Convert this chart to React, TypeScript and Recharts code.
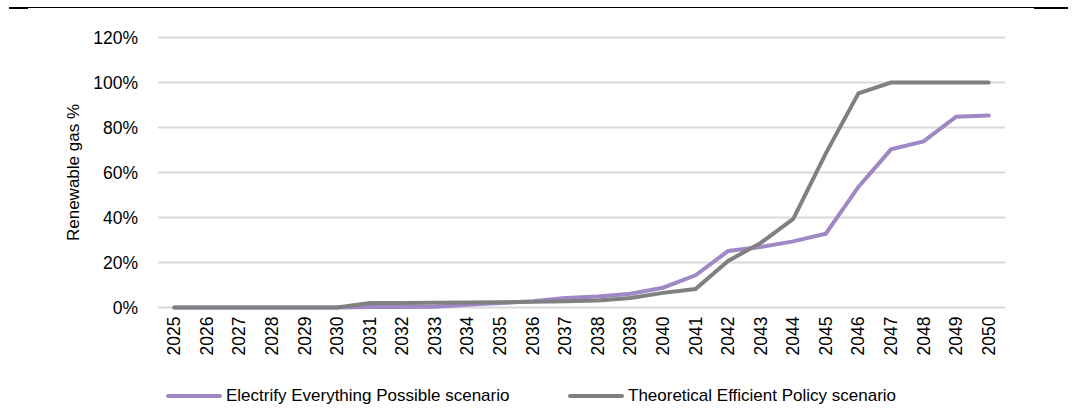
import React from 'react';
import { LineChart, Line, XAxis, YAxis, CartesianGrid } from 'recharts';

const years = ['2025','2026','2027','2028','2029','2030','2031','2032','2033','2034','2035','2036','2037','2038','2039','2040','2041','2042','2043','2044','2045','2046','2047','2048','2049','2050'];
const electrify = [0,0,0,0,0,0,0.2,0.2,0.3,1.2,2.0,2.8,4.2,4.9,6.1,8.8,14.3,25.1,26.9,29.4,32.8,53.6,70.3,73.8,84.8,85.3];
const efficient = [0,0,0,0,0,0,2.0,2.0,2.1,2.2,2.3,2.5,2.8,3.1,4.2,6.5,8.2,20.7,28.7,39.4,68.5,95.2,100,100,100,100];
const yTicks = [0,20,40,60,80,100,120];
const seriesNames = ['Electrify Everything Possible scenario','Theoretical Efficient Policy scenario'];
const seriesColors = ['#9F88C5','#808080'];

const data = years.map((y, i) => ({ year: y, electrify: electrify[i], efficient: efficient[i] }));

const FONT = '"Liberation Sans", Arial, sans-serif';

const XTick = (props: any) => {
  const { x, y, payload } = props;
  const ty = y + 9;
  return (
    <text x={x} y={ty} transform={`rotate(-90 ${x} ${ty})`} textAnchor="end" dominantBaseline="central"
      fontFamily={FONT} fontSize={17.5} fill="#000">{payload.value}</text>
  );
};

export default function App() {
  return (
    <div style={{ position: 'fixed', left: 0, top: 0, width: 1075, height: 410, background: '#fff', fontFamily: FONT }}>
      <div style={{ position: 'absolute', left: 9, top: 7, width: 1059, height: 1, background: '#000' }} />
      <div style={{ position: 'absolute', left: 9, top: 7, width: 19, height: 2, background: '#000' }} />
      <div style={{ position: 'absolute', left: 1034, top: 7, width: 34, height: 2, background: '#000' }} />
      <LineChart width={1075} height={410} data={data} margin={{ top: 37.5, right: 70, left: 0, bottom: 42.5 }}>
        <CartesianGrid vertical={false} stroke="#D9D9D9" strokeWidth={2} />
        <XAxis dataKey="year" scale="band" axisLine={false} tickLine={false} tickSize={0} tickMargin={0} height={60} interval={0} tick={<XTick />} />
        <YAxis width={158} domain={[0,120]} ticks={yTicks} axisLine={false} tickLine={false} tickMargin={14}
          tickFormatter={(v: number) => `${v}%`} tick={{ fontFamily: FONT, fontSize: 17.5, fill: '#000' }}
          label={{ content: () => (
            <text x={73} y={172.5} transform="rotate(-90 73 172.5)" textAnchor="middle" dominantBaseline="central"
              fontFamily={FONT} fontSize={17} fill="#000">Renewable gas %</text>
          ) }} />
        <Line dataKey="electrify" name={seriesNames[0]} stroke={seriesColors[0]} strokeWidth={4} dot={false} strokeLinecap="round" isAnimationActive={false} />
        <Line dataKey="efficient" name={seriesNames[1]} stroke={seriesColors[1]} strokeWidth={4} dot={false} strokeLinecap="round" isAnimationActive={false} />
      </LineChart>
      {[166, 568].map((left, i) => (
        <div key={i} style={{ position: 'absolute', left, top: 384, height: 24, display: 'flex', alignItems: 'center' }}>
          <div style={{ width: 56, height: 4, borderRadius: 2, background: seriesColors[i], marginRight: 4 }} />
          <span style={{ fontSize: 17, color: '#000', whiteSpace: 'nowrap' }}>{seriesNames[i]}</span>
        </div>
      ))}
    </div>
  );
}
